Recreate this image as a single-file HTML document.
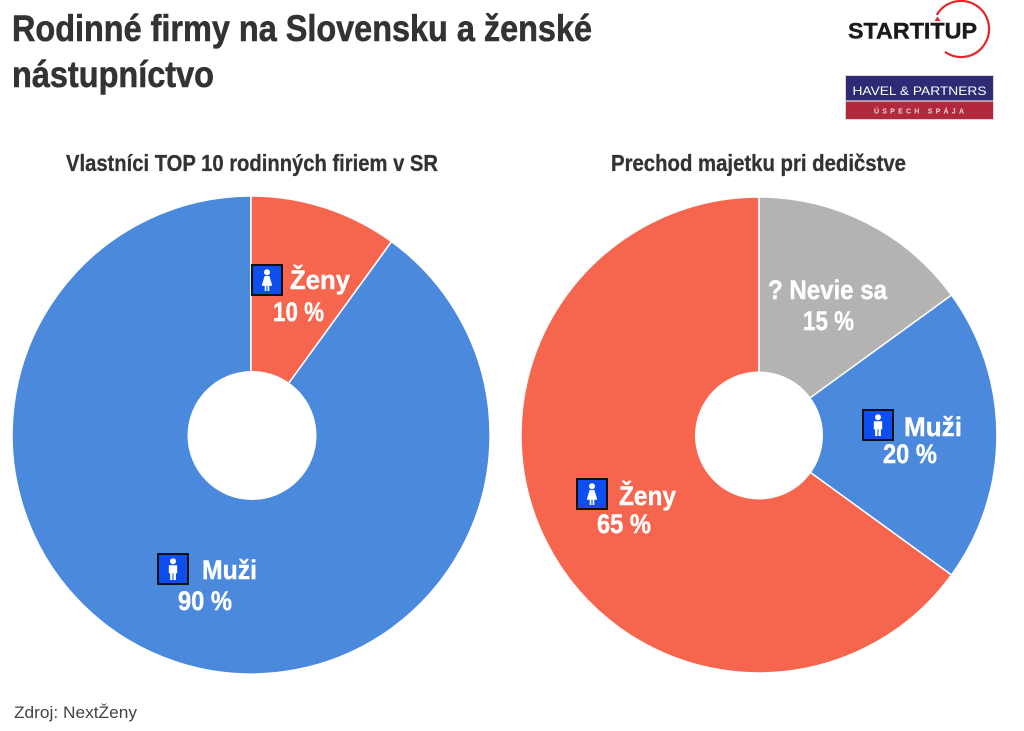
<!DOCTYPE html>
<html>
<head>
<meta charset="utf-8">
<style>
  html, body { margin: 0; padding: 0; background: #ffffff; }
  svg { display: block; }
  .cond { font-family: "Liberation Sans Narrow", "Liberation Sans", "DejaVu Sans", sans-serif; }
</style>
</head>
<body>
<svg width="1024" height="731" viewBox="0 0 1024 731" xmlns="http://www.w3.org/2000/svg">
  <rect x="0" y="0" width="1024" height="731" fill="#ffffff"/>

  <!-- Title -->
  <text class="cond" x="12" y="41" font-size="37" font-weight="bold" fill="#333333" stroke="#333333" stroke-width="0.6" textLength="580" lengthAdjust="spacingAndGlyphs">Rodinné firmy na Slovensku a ženské</text>
  <text class="cond" x="12" y="87" font-size="37" font-weight="bold" fill="#333333" stroke="#333333" stroke-width="0.6" textLength="202" lengthAdjust="spacingAndGlyphs">nástupníctvo</text>

  <!-- STARTITUP logo -->
  <path d="M936.8,15 A28,28 0 1 1 944.9,51.9" fill="none" stroke="#e5262b" stroke-width="2.2"/>
  <text x="848" y="38.5" font-family="Liberation Sans, sans-serif" font-size="22" font-weight="bold" fill="#1a1a1a" stroke="#1a1a1a" stroke-width="0.4" textLength="129" lengthAdjust="spacingAndGlyphs">STARTITUP</text>
  <path d="M934.5,21 L937.5,16.5 L940.5,21 Z" fill="#e5262b"/>

  <!-- HAVEL & PARTNERS logo -->
  <rect x="845.5" y="75.5" width="148" height="44" fill="#ffffff" stroke="#d8d8d8" stroke-width="1"/>
  <rect x="846" y="76" width="147" height="24.5" fill="#2d2b73"/>
  <rect x="846" y="101.5" width="147" height="17.5" fill="#b2293d"/>
  <text x="919.5" y="95" text-anchor="middle" font-family="Liberation Sans, sans-serif" font-size="12" fill="#ffffff" textLength="134" lengthAdjust="spacingAndGlyphs">HAVEL &amp; PARTNERS</text>
  <text x="919" y="113.5" text-anchor="middle" font-family="Liberation Sans, sans-serif" font-size="7" font-weight="bold" fill="#f3d3d6" textLength="90" lengthAdjust="spacing">ÚSPECH SPÁJA</text>

  <!-- Subtitles -->
  <text class="cond" x="66" y="171" font-size="23" font-weight="bold" fill="#333333" stroke="#333333" stroke-width="0.3" textLength="372" lengthAdjust="spacingAndGlyphs">Vlastníci TOP 10 rodinných firiem v SR</text>
  <text class="cond" x="611" y="171" font-size="23" font-weight="bold" fill="#333333" stroke="#333333" stroke-width="0.3" textLength="295" lengthAdjust="spacingAndGlyphs">Prechod majetku pri dedičstve</text>

  <!-- Left donut -->
  <path d="M251,435 L391.5,241.6 A239,239 0 1 1 251,196 Z" fill="#4a89dc" stroke="#ffffff" stroke-width="1.5" stroke-linejoin="round"/>
  <path d="M251,435 L251,196 A239,239 0 0 1 391.5,241.6 Z" fill="#f6654e" stroke="#ffffff" stroke-width="1.5" stroke-linejoin="round"/>
  <circle cx="252" cy="435.5" r="64.5" fill="#ffffff"/>

  <!-- Right donut -->
  <path d="M759,435 L951.5,574.9 A238,238 0 1 1 759,197 Z" fill="#f6654e" stroke="#ffffff" stroke-width="1.5" stroke-linejoin="round"/>
  <path d="M759,435 L759,197 A238,238 0 0 1 951.5,295.1 Z" fill="#b5b2b2" stroke="#ffffff" stroke-width="1.5" stroke-linejoin="round"/>
  <path d="M759,435 L951.5,295.1 A238,238 0 0 1 951.5,574.9 Z" fill="#4a89dc" stroke="#ffffff" stroke-width="1.5" stroke-linejoin="round"/>
  <circle cx="759" cy="435.5" r="64" fill="#ffffff"/>

  <defs>
    <g id="male">
      <rect x="1" y="1" width="30" height="30" fill="#0c4ef0" stroke="#111111" stroke-width="2"/>
      <circle cx="16" cy="8.3" r="3" fill="#ffffff"/>
      <path d="M11.8,12.3 H20.2 V20.3 H18.9 V27 H16.5 V20.3 H15.5 V27 H13.1 V20.3 H11.8 Z" fill="#ffffff"/>
    </g>
    <g id="female">
      <rect x="1" y="1" width="30" height="30" fill="#0c4ef0" stroke="#111111" stroke-width="2"/>
      <circle cx="16" cy="8.3" r="3" fill="#ffffff"/>
      <path d="M13.6,12 H18.4 L21.3,21.8 H18.3 V27 H16.6 V21.8 H15.4 V27 H13.7 V21.8 H10.7 Z" fill="#ffffff"/>
    </g>
  </defs>

  <!-- Left labels -->
  <use href="#female" x="251" y="264"/>
  <text class="cond" x="290" y="289" font-size="27" font-weight="bold" fill="#ffffff" stroke="#ffffff" stroke-width="0.4" textLength="60" lengthAdjust="spacingAndGlyphs">Ženy</text>
  <text class="cond" x="273" y="321" font-size="27" font-weight="bold" fill="#ffffff" stroke="#ffffff" stroke-width="0.4" textLength="51" lengthAdjust="spacingAndGlyphs">10 %</text>

  <use href="#male" x="157" y="553"/>
  <text class="cond" x="202" y="579" font-size="27" font-weight="bold" fill="#ffffff" stroke="#ffffff" stroke-width="0.4" textLength="55" lengthAdjust="spacingAndGlyphs">Muži</text>
  <text class="cond" x="178" y="610" font-size="27" font-weight="bold" fill="#ffffff" stroke="#ffffff" stroke-width="0.4" textLength="54" lengthAdjust="spacingAndGlyphs">90 %</text>

  <!-- Right labels -->
  <text class="cond" x="768" y="299" font-size="27" font-weight="bold" fill="#ffffff" stroke="#ffffff" stroke-width="0.4" textLength="119" lengthAdjust="spacingAndGlyphs">? Nevie sa</text>
  <text class="cond" x="803" y="330" font-size="27" font-weight="bold" fill="#ffffff" stroke="#ffffff" stroke-width="0.4" textLength="51" lengthAdjust="spacingAndGlyphs">15 %</text>

  <use href="#male" x="862" y="409"/>
  <text class="cond" x="904" y="436" font-size="27" font-weight="bold" fill="#ffffff" stroke="#ffffff" stroke-width="0.4" textLength="58" lengthAdjust="spacingAndGlyphs">Muži</text>
  <text class="cond" x="883" y="463" font-size="27" font-weight="bold" fill="#ffffff" stroke="#ffffff" stroke-width="0.4" textLength="54" lengthAdjust="spacingAndGlyphs">20 %</text>

  <use href="#female" x="576" y="478"/>
  <text class="cond" x="619" y="505" font-size="27" font-weight="bold" fill="#ffffff" stroke="#ffffff" stroke-width="0.4" textLength="57" lengthAdjust="spacingAndGlyphs">Ženy</text>
  <text class="cond" x="597" y="533" font-size="27" font-weight="bold" fill="#ffffff" stroke="#ffffff" stroke-width="0.4" textLength="54" lengthAdjust="spacingAndGlyphs">65 %</text>

  <!-- Footer -->
  <text class="cond" x="14" y="718" font-size="17" fill="#444444" textLength="123" lengthAdjust="spacingAndGlyphs">Zdroj: NextŽeny</text>
</svg>
</body>
</html>
